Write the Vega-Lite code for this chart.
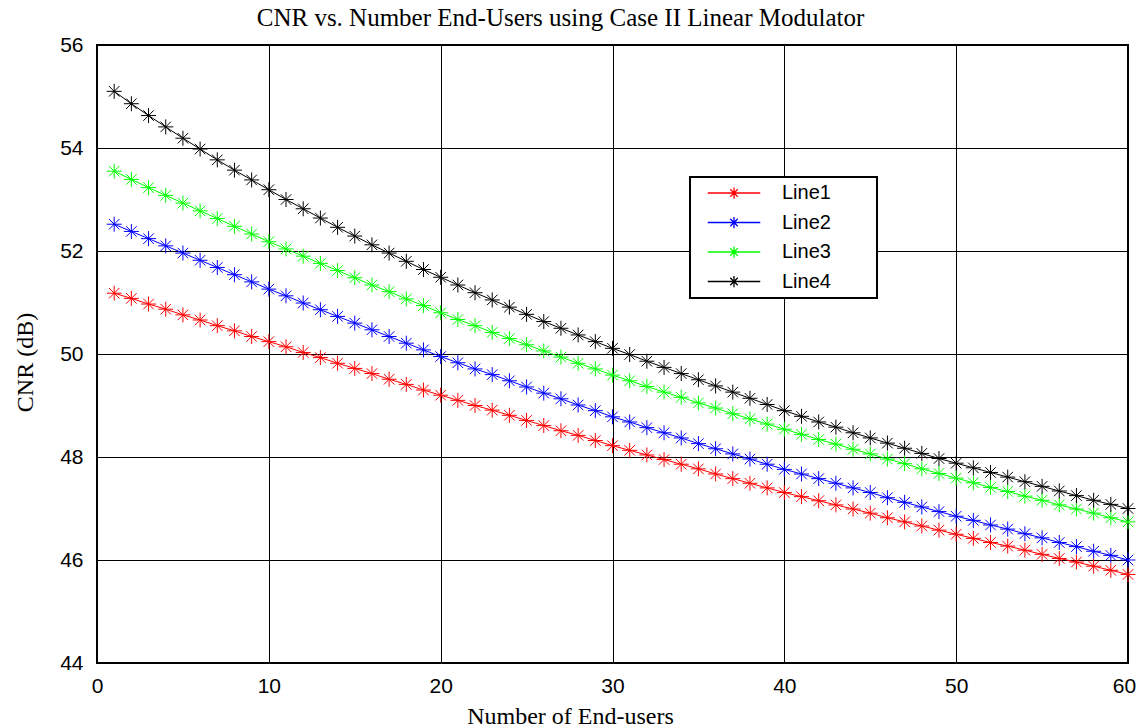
{
  "$schema": "https://vega.github.io/schema/vega-lite/v6.json",
  "width": 1031,
  "height": 618,
  "autosize": {"type": "none"},
  "padding": {"left": 97, "top": 45, "right": 10, "bottom": 65},
  "background": "white",
  "title": {
    "text": "CNR vs. Number End-Users using Case II Linear Modulator",
    "font": "Liberation Serif",
    "fontSize": 25,
    "fontWeight": "normal",
    "color": "black",
    "anchor": "middle",
    "frame": "group",
    "offset": 3,
    "dx": -52
  },
  "data": {
    "values": [
      {"x": 1, "Line1": 51.18, "Line2": 52.52, "Line3": 53.55, "Line4": 55.10},
      {"x": 2, "Line1": 51.08, "Line2": 52.38, "Line3": 53.39, "Line4": 54.86},
      {"x": 3, "Line1": 50.97, "Line2": 52.24, "Line3": 53.23, "Line4": 54.63},
      {"x": 4, "Line1": 50.87, "Line2": 52.10, "Line3": 53.08, "Line4": 54.41},
      {"x": 5, "Line1": 50.76, "Line2": 51.96, "Line3": 52.93, "Line4": 54.19},
      {"x": 6, "Line1": 50.66, "Line2": 51.82, "Line3": 52.78, "Line4": 53.98},
      {"x": 7, "Line1": 50.55, "Line2": 51.68, "Line3": 52.63, "Line4": 53.77},
      {"x": 8, "Line1": 50.45, "Line2": 51.54, "Line3": 52.48, "Line4": 53.57},
      {"x": 9, "Line1": 50.34, "Line2": 51.40, "Line3": 52.33, "Line4": 53.38},
      {"x": 10, "Line1": 50.24, "Line2": 51.26, "Line3": 52.18, "Line4": 53.19},
      {"x": 11, "Line1": 50.14, "Line2": 51.13, "Line3": 52.04, "Line4": 53.00},
      {"x": 12, "Line1": 50.03, "Line2": 50.99, "Line3": 51.90, "Line4": 52.82},
      {"x": 13, "Line1": 49.93, "Line2": 50.86, "Line3": 51.76, "Line4": 52.64},
      {"x": 14, "Line1": 49.82, "Line2": 50.73, "Line3": 51.62, "Line4": 52.46},
      {"x": 15, "Line1": 49.72, "Line2": 50.60, "Line3": 51.48, "Line4": 52.29},
      {"x": 16, "Line1": 49.62, "Line2": 50.47, "Line3": 51.34, "Line4": 52.12},
      {"x": 17, "Line1": 49.51, "Line2": 50.34, "Line3": 51.21, "Line4": 51.96},
      {"x": 18, "Line1": 49.41, "Line2": 50.21, "Line3": 51.07, "Line4": 51.80},
      {"x": 19, "Line1": 49.30, "Line2": 50.08, "Line3": 50.94, "Line4": 51.64},
      {"x": 20, "Line1": 49.20, "Line2": 49.95, "Line3": 50.80, "Line4": 51.49},
      {"x": 21, "Line1": 49.10, "Line2": 49.83, "Line3": 50.67, "Line4": 51.34},
      {"x": 22, "Line1": 49.00, "Line2": 49.71, "Line3": 50.55, "Line4": 51.19},
      {"x": 23, "Line1": 48.91, "Line2": 49.60, "Line3": 50.42, "Line4": 51.05},
      {"x": 24, "Line1": 48.81, "Line2": 49.48, "Line3": 50.30, "Line4": 50.91},
      {"x": 25, "Line1": 48.71, "Line2": 49.36, "Line3": 50.18, "Line4": 50.77},
      {"x": 26, "Line1": 48.61, "Line2": 49.24, "Line3": 50.06, "Line4": 50.63},
      {"x": 27, "Line1": 48.51, "Line2": 49.13, "Line3": 49.94, "Line4": 50.50},
      {"x": 28, "Line1": 48.42, "Line2": 49.01, "Line3": 49.82, "Line4": 50.37},
      {"x": 29, "Line1": 48.32, "Line2": 48.90, "Line3": 49.71, "Line4": 50.24},
      {"x": 30, "Line1": 48.22, "Line2": 48.78, "Line3": 49.59, "Line4": 50.11},
      {"x": 31, "Line1": 48.13, "Line2": 48.68, "Line3": 49.48, "Line4": 49.99},
      {"x": 32, "Line1": 48.04, "Line2": 48.57, "Line3": 49.37, "Line4": 49.86},
      {"x": 33, "Line1": 47.95, "Line2": 48.47, "Line3": 49.26, "Line4": 49.74},
      {"x": 34, "Line1": 47.86, "Line2": 48.37, "Line3": 49.16, "Line4": 49.62},
      {"x": 35, "Line1": 47.77, "Line2": 48.26, "Line3": 49.05, "Line4": 49.50},
      {"x": 36, "Line1": 47.67, "Line2": 48.16, "Line3": 48.95, "Line4": 49.38},
      {"x": 37, "Line1": 47.58, "Line2": 48.06, "Line3": 48.84, "Line4": 49.26},
      {"x": 38, "Line1": 47.49, "Line2": 47.96, "Line3": 48.74, "Line4": 49.14},
      {"x": 39, "Line1": 47.40, "Line2": 47.86, "Line3": 48.64, "Line4": 49.02},
      {"x": 40, "Line1": 47.31, "Line2": 47.76, "Line3": 48.54, "Line4": 48.90},
      {"x": 41, "Line1": 47.23, "Line2": 47.67, "Line3": 48.44, "Line4": 48.79},
      {"x": 42, "Line1": 47.15, "Line2": 47.58, "Line3": 48.34, "Line4": 48.68},
      {"x": 43, "Line1": 47.07, "Line2": 47.49, "Line3": 48.25, "Line4": 48.58},
      {"x": 44, "Line1": 46.99, "Line2": 47.40, "Line3": 48.15, "Line4": 48.47},
      {"x": 45, "Line1": 46.91, "Line2": 47.31, "Line3": 48.06, "Line4": 48.37},
      {"x": 46, "Line1": 46.82, "Line2": 47.21, "Line3": 47.96, "Line4": 48.27},
      {"x": 47, "Line1": 46.74, "Line2": 47.12, "Line3": 47.87, "Line4": 48.17},
      {"x": 48, "Line1": 46.66, "Line2": 47.03, "Line3": 47.77, "Line4": 48.07},
      {"x": 49, "Line1": 46.58, "Line2": 46.94, "Line3": 47.68, "Line4": 47.97},
      {"x": 50, "Line1": 46.50, "Line2": 46.85, "Line3": 47.59, "Line4": 47.88},
      {"x": 51, "Line1": 46.42, "Line2": 46.77, "Line3": 47.50, "Line4": 47.79},
      {"x": 52, "Line1": 46.34, "Line2": 46.68, "Line3": 47.41, "Line4": 47.70},
      {"x": 53, "Line1": 46.27, "Line2": 46.60, "Line3": 47.33, "Line4": 47.61},
      {"x": 54, "Line1": 46.19, "Line2": 46.51, "Line3": 47.24, "Line4": 47.52},
      {"x": 55, "Line1": 46.11, "Line2": 46.43, "Line3": 47.16, "Line4": 47.43},
      {"x": 56, "Line1": 46.03, "Line2": 46.34, "Line3": 47.07, "Line4": 47.34},
      {"x": 57, "Line1": 45.96, "Line2": 46.26, "Line3": 46.99, "Line4": 47.25},
      {"x": 58, "Line1": 45.88, "Line2": 46.17, "Line3": 46.91, "Line4": 47.16},
      {"x": 59, "Line1": 45.80, "Line2": 46.09, "Line3": 46.82, "Line4": 47.08},
      {"x": 60, "Line1": 45.72, "Line2": 46.00, "Line3": 46.74, "Line4": 47.00}
    ]
  },
  "transform": [
    {"fold": ["Line1", "Line2", "Line3", "Line4"], "as": ["series", "cnr"]}
  ],
  "encoding": {
    "x": {
      "field": "x",
      "type": "quantitative",
      "scale": {"domain": [0, 60], "nice": false},
      "axis": {
        "title": "Number of End-users",
        "values": [0, 10, 20, 30, 40, 50, 60],
        "labelPadding": 12,
        "labelFlush": false,
        "labelOffset": {"expr": "datum.value == 60 ? -4 : 0"},
        "titlePadding": 8,
        "titleFontSize": 24,
        "titleX": 473
      }
    },
    "y": {
      "field": "cnr",
      "type": "quantitative",
      "scale": {"domain": [44, 56], "nice": false, "zero": false},
      "axis": {
        "title": "CNR (dB)",
        "values": [44, 46, 48, 50, 52, 54, 56],
        "labelPadding": 14,
        "titlePadding": 22,
        "titleFontSize": 24,
        "titleY": 317
      }
    },
    "color": {
      "field": "series",
      "type": "nominal",
      "scale": {
        "domain": ["Line1", "Line2", "Line3", "Line4"],
        "range": ["#ff0000", "#0000ff", "#00ff00", "#000000"]
      },
      "legend": {
        "title": null,
        "orient": "none",
        "legendX": 593,
        "legendY": 132,
        "padding": 6,
        "strokeColor": "black",
        "fillColor": "white",
        "symbolType": "M-3.5,0H3.5M0,-0.75V0.75M-0.55,0H0.55M-0.5,-0.5L0.5,0.5M-0.5,0.5L0.5,-0.5M17.8,0",
        "symbolSize": 225,
        "symbolStrokeWidth": 1.3,
        "symbolFillColor": "transparent",
        "symbolOffset": 28,
        "labelOffset": 38,
        "labelFont": "Liberation Sans",
        "labelFontSize": 20,
        "labelColor": "black",
        "rowPadding": 9.5,
        "encode": {
          "legend": {"update": {"strokeWidth": {"value": 2}}}
        }
      }
    }
  },
  "layer": [
    {
      "mark": {"type": "line", "strokeWidth": 1, "interpolate": "linear"}
    },
    {
      "mark": {
        "type": "point",
        "shape": "M0,-1V1M-1,0H1M-0.7,-0.7L0.7,0.7M-0.7,0.7L0.7,-0.7",
        "size": 225,
        "filled": false,
        "strokeWidth": 1,
        "opacity": 1
      }
    }
  ],
  "config": {
    "view": {"stroke": "black", "strokeWidth": 2},
    "axis": {
      "grid": true,
      "gridColor": "black",
      "gridOpacity": 1,
      "gridWidth": 1,
      "domain": false,
      "ticks": false,
      "labelFont": "Liberation Sans",
      "labelFontSize": 21,
      "labelColor": "black",
      "titleFont": "Liberation Serif",
      "titleFontSize": 20,
      "titleFontWeight": "normal",
      "titleColor": "black"
    }
  }
}
